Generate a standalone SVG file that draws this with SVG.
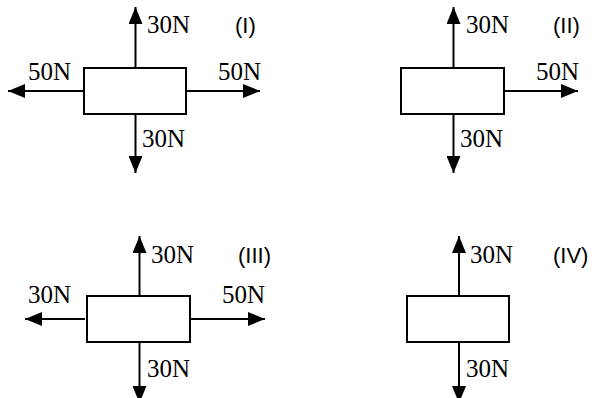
<svg xmlns="http://www.w3.org/2000/svg" width="594" height="398" viewBox="0 0 594 398">
<style>
.box{fill:#fff;stroke:#000;stroke-width:2}
.f{stroke:#000;stroke-width:2;fill:none;marker-end:url(#ah)}
.r{font-family:"Liberation Sans",Arial,sans-serif;font-size:22px;fill:#000}
</style>
<defs>
<marker id="ah" markerUnits="userSpaceOnUse" markerWidth="17" markerHeight="14" refX="17" refY="7" orient="auto" viewBox="0 0 17 14">
<path d="M0,0 L17,7 L0,14 z" fill="#000"/>
</marker>
</defs>
<g id="connectors">
<line class="f" x1="135.5" y1="68" x2="135.5" y2="7"/>
<line class="f" x1="135.5" y1="114" x2="135.5" y2="173"/>
<line class="f" x1="84" y1="91" x2="8" y2="91"/>
<line class="f" x1="186" y1="91" x2="260" y2="91"/>
<line class="f" x1="453.5" y1="68" x2="453.5" y2="7"/>
<line class="f" x1="453.5" y1="114" x2="453.5" y2="173"/>
<line class="f" x1="504" y1="91" x2="578" y2="91"/>
<line class="f" x1="139.5" y1="296" x2="139.5" y2="236"/>
<line class="f" x1="139.5" y1="342" x2="139.5" y2="403"/>
<line class="f" x1="85" y1="319" x2="25" y2="319"/>
<line class="f" x1="190" y1="319" x2="265" y2="319"/>
<line class="f" x1="459" y1="296" x2="459" y2="236"/>
<line class="f" x1="459" y1="342" x2="459" y2="403"/>
</g>
<g font-family="Liberation Serif, Times New Roman, serif" font-size="25" fill="#000">
<g id="node-I">
<rect class="box" x="84" y="68" width="102" height="46"/>
<text x="147" y="33">30N</text>
<text class="r" x="235" y="33">(I)</text>
<text x="28" y="80">50N</text>
<text x="218" y="80">50N</text>
<text x="142" y="147">30N</text>
</g>
<g id="node-II">
<rect class="box" x="401" y="68" width="103" height="46"/>
<text x="466" y="33">30N</text>
<text class="r" x="553" y="33">(II)</text>
<text x="536" y="80">50N</text>
<text x="460" y="147">30N</text>
</g>
<g id="node-III">
<rect class="box" x="87" y="296" width="103" height="46"/>
<text x="151" y="263">30N</text>
<text class="r" x="238" y="263">(III)</text>
<text x="28" y="303">30N</text>
<text x="222" y="303">50N</text>
<text x="147" y="377">30N</text>
</g>
<g id="node-IV">
<rect class="box" x="407" y="296" width="102" height="46"/>
<text x="470" y="263">30N</text>
<text class="r" x="553" y="263">(IV)</text>
<text x="466" y="377">30N</text>
</g>
</g>
</svg>
